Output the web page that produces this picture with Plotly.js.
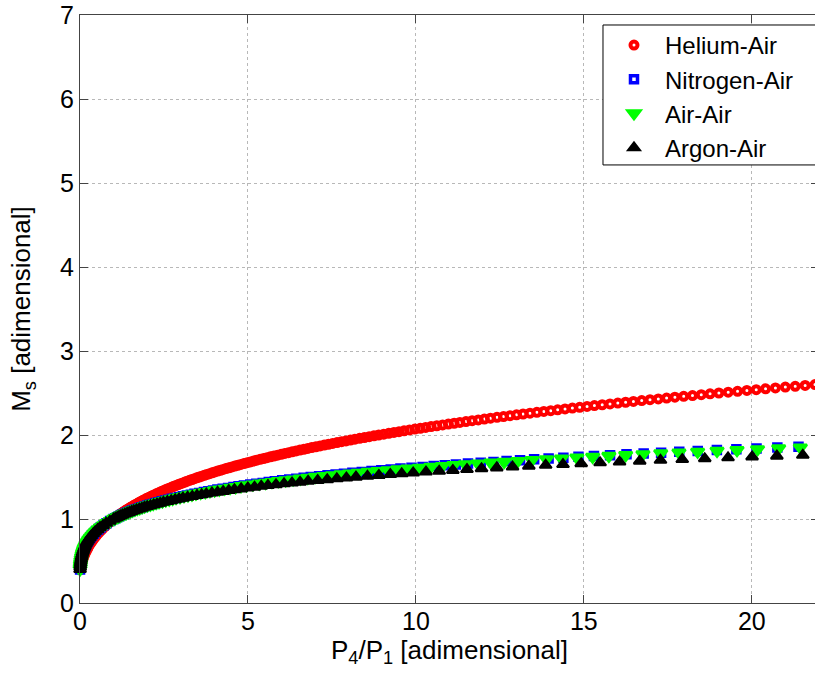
<!DOCTYPE html>
<html>
<head>
<meta charset="utf-8">
<script src="https://cdn.plot.ly/plotly-3.0.1.min.js"></script>
<style>
html, body { margin: 0; padding: 0; overflow: hidden; background: #fff; }
#chart { width: 830px; height: 676px; }
</style>
</head>
<body>
<div id="chart"></div>
<script>
// Shock Mach number Ms versus pressure ratio P4/P1
var lowMs = [0.4,0.425,0.45,0.475,0.5,0.525,0.55,0.575,0.6,0.625,0.65,0.675,0.7,0.725,0.75,0.775,0.8,0.825,0.85,0.875,0.9,0.925,0.95,0.975];

var heliumMs = lowMs.concat([
1.00,1.01,1.02,1.03,1.04,1.05,1.06,1.07,1.08,1.09,
1.10,1.11,1.12,1.13,1.14,1.15,1.16,1.17,1.18,1.19,
1.20,1.21,1.22,1.23,1.24,1.25,1.26,1.27,1.28,1.29,
1.30,1.31,1.32,1.33,1.34,1.35,1.36,1.37,1.38,1.39,
1.40,1.41,1.42,1.43,1.44,1.45,1.46,1.47,1.48,1.49,
1.50,1.51,1.52,1.53,1.54,1.55,1.56,1.57,1.58,1.59,
1.60,1.61,1.62,1.63,1.64,1.65,1.66,1.67,1.68,1.69,
1.70,1.71,1.72,1.73,1.74,1.75,1.76,1.77,1.78,1.79,
1.80,1.81,1.82,1.83,1.84,1.85,1.86,1.87,1.88,1.89,
1.90,1.91,1.92,1.93,1.94,1.95,1.96,1.97,1.98,1.99,
2.00,2.01,2.02,2.03,2.04,2.05,2.06,2.07,2.08,2.09,
2.10,2.11,2.12,2.13,2.14,2.15,2.16,2.17,2.18,2.19,
2.20,2.21,2.22,2.23,2.24,2.25,2.26,2.27,2.28,2.29,
2.30,2.31,2.32,2.33,2.34,2.35,2.36,2.37,2.38,2.39,
2.40,2.41,2.42,2.43,2.44,2.45,2.46,2.47,2.48,2.49,
2.50,2.51,2.52,2.53,2.54,2.55,2.56,2.57,2.58,2.59,
2.60]);
var heliumP = [
0.009,0.022,0.035,0.052,0.069,0.090,0.112,0.138,0.164,0.195,0.227,0.263,0.300,0.342,0.385,0.433,0.481,0.535,0.590,0.651,0.712,0.780,0.849,0.924,
1.000,1.033,1.067,1.100,1.134,1.167,1.204,1.241,1.277,1.314,
1.351,1.391,1.432,1.472,1.513,1.553,1.597,1.641,1.685,1.729,
1.773,1.821,1.869,1.916,1.964,2.012,2.064,2.116,2.169,2.221,
2.273,2.330,2.386,2.443,2.499,2.556,2.617,2.678,2.739,2.800,
2.861,2.927,2.993,3.060,3.126,3.192,3.263,3.334,3.406,3.477,
3.548,3.625,3.702,3.778,3.855,3.932,4.014,4.097,4.179,4.262,
4.344,4.433,4.521,4.610,4.698,4.787,4.882,4.977,5.071,5.166,
5.261,5.363,5.465,5.567,5.669,5.771,5.880,5.989,6.097,6.206,
6.315,6.432,6.548,6.665,6.781,6.898,7.022,7.147,7.271,7.396,
7.520,7.653,7.786,7.918,8.051,8.184,8.326,8.467,8.609,8.750,
8.892,9.043,9.194,9.346,9.497,9.648,9.809,9.970,10.130,10.291,
10.452,10.623,10.795,10.966,11.138,11.309,11.491,11.673,11.856,12.038,
12.220,12.414,12.608,12.802,12.996,13.190,13.396,13.602,13.808,14.014,
14.220,14.439,14.658,14.876,15.095,15.314,15.546,15.778,16.011,16.243,
16.475,16.722,16.969,17.216,17.463,17.710,17.972,18.234,18.495,18.757,
19.019,19.297,19.575,19.853,20.131,20.409,20.703,20.998,21.292,21.587,
21.881];

var nitrogenMs = lowMs.concat([
1.00,1.01,1.02,1.03,1.04,1.05,1.06,1.07,1.08,1.09,
1.10,1.11,1.12,1.13,1.14,1.15,1.16,1.17,1.18,1.19,
1.20,1.21,1.22,1.23,1.24,1.25,1.26,1.27,1.28,1.29,
1.30,1.31,1.32,1.33,1.34,1.35,1.36,1.37,1.38,1.39,
1.40,1.41,1.42,1.43,1.44,1.45,1.46,1.47,1.48,1.49,
1.50,1.51,1.52,1.53,1.54,1.55,1.56,1.57,1.58,1.59,
1.60,1.61,1.62,1.63,1.64,1.65,1.66,1.67,1.68,1.69,
1.70,1.71,1.72,1.73,1.74,1.75,1.76,1.77,1.78,1.79,
1.80,1.81,1.82,1.83,1.84,1.85,1.86,1.87]);
var nitrogenP = [
0.002,0.007,0.012,0.019,0.027,0.038,0.050,0.066,0.082,0.104,0.126,0.155,0.184,0.221,0.259,0.306,0.353,0.411,0.470,0.542,0.613,0.701,0.789,0.895,
1.00,1.05,1.10,1.15,1.20,1.25,1.31,1.37,1.43,1.49,
1.55,1.63,1.70,1.77,1.84,1.91,2.00,2.08,2.17,2.25,
2.34,2.43,2.53,2.63,2.73,2.83,2.95,3.06,3.18,3.30,
3.41,3.55,3.69,3.82,3.96,4.09,4.25,4.41,4.57,4.72,
4.88,5.07,5.25,5.44,5.62,5.80,6.02,6.23,6.44,6.66,
6.87,7.12,7.37,7.61,7.86,8.11,8.39,8.68,8.97,9.25,
9.54,9.87,10.20,10.53,10.86,11.19,11.55,11.93,12.31,12.70,
13.10,13.52,13.95,14.39,14.84,15.30,15.78,16.27,16.78,17.30,
17.84,18.39,18.96,19.54,20.14,20.76,21.39,22.03];

var airMs = lowMs.concat([
1.00,1.01,1.02,1.03,1.04,1.05,1.06,1.07,1.08,1.09,
1.10,1.11,1.12,1.13,1.14,1.15,1.16,1.17,1.18,1.19,
1.20,1.21,1.22,1.23,1.24,1.25,1.26,1.27,1.28,1.29,
1.30,1.31,1.32,1.33,1.34,1.35,1.36,1.37,1.38,1.39,
1.40,1.41,1.42,1.43,1.44,1.45,1.46,1.47,1.48,1.49,
1.50,1.51,1.52,1.53,1.54,1.55,1.56,1.57,1.58,1.59,
1.60,1.61,1.62,1.63,1.64,1.65,1.66,1.67,1.68,1.69,
1.70,1.71,1.72,1.73,1.74,1.75,1.76,1.77,1.78,1.79,
1.80,1.81,1.82,1.83,1.84,1.85,1.86]);
var airP = [
0.002,0.007,0.011,0.019,0.026,0.037,0.049,0.065,0.081,0.102,0.124,0.153,0.182,0.219,0.256,0.303,0.350,0.408,0.467,0.539,0.611,0.699,0.787,0.894,
1.000,1.051,1.102,1.154,1.205,1.256,1.317,1.378,1.439,1.500,
1.561,1.634,1.706,1.779,1.851,1.924,2.010,2.096,2.181,2.267,
2.353,2.454,2.555,2.657,2.758,2.859,2.978,3.096,3.215,3.333,
3.452,3.591,3.730,3.869,4.008,4.147,4.309,4.471,4.633,4.795,
4.957,5.146,5.335,5.525,5.714,5.903,6.123,6.343,6.562,6.782,
7.002,7.257,7.512,7.768,8.023,8.278,8.574,8.870,9.166,9.462,
9.758,10.100,10.443,10.785,11.128,11.470,11.845,12.231,12.627,13.035,
13.454,13.888,14.333,14.791,15.262,15.744,16.245,16.759,17.288,17.831,
18.387,18.965,19.560,20.171,20.800,21.444,22.110];

var argonMs = lowMs.concat([
1.00,1.01,1.02,1.03,1.04,1.05,1.06,1.07,1.08,1.09,
1.10,1.11,1.12,1.13,1.14,1.15,1.16,1.17,1.18,1.19,
1.20,1.21,1.22,1.23,1.24,1.25,1.26,1.27,1.28,1.29,
1.30,1.31,1.32,1.33,1.34,1.35,1.36,1.37,1.38,1.39,
1.40,1.41,1.42,1.43,1.44,1.45,1.46,1.47,1.48,1.49,
1.50,1.51,1.52,1.53,1.54,1.55,1.56,1.57,1.58,1.59,
1.60,1.61,1.62,1.63,1.64,1.65,1.66,1.67,1.68,1.69,
1.70,1.71,1.72,1.73,1.74,1.75,1.76,1.77]);
var argonP = [
0.002,0.006,0.011,0.018,0.024,0.035,0.045,0.060,0.075,0.096,0.117,0.144,0.172,0.208,0.243,0.289,0.335,0.394,0.452,0.525,0.597,0.688,0.778,0.889,
1.000,1.054,1.108,1.163,1.217,1.271,1.337,1.403,1.470,1.536,
1.602,1.682,1.762,1.841,1.921,2.001,2.098,2.194,2.291,2.387,
2.484,2.600,2.716,2.833,2.949,3.065,3.204,3.343,3.483,3.622,
3.761,3.928,4.095,4.263,4.430,4.597,4.797,4.997,5.196,5.396,
5.596,5.835,6.074,6.312,6.551,6.790,7.075,7.360,7.646,7.931,
8.216,8.557,8.897,9.238,9.578,9.919,10.300,10.693,11.100,11.521,
11.954,12.408,12.877,13.362,13.863,14.379,14.921,15.483,16.063,16.663,
17.281,17.929,18.599,19.292,20.008,20.746,21.518,22.316];

var seriesNames = ['Helium-Air', 'Nitrogen-Air', 'Air-Air', 'Argon-Air'];
var xTickVals = [0, 5, 10, 15, 20];
var yTickVals = [0, 1, 2, 3, 4, 5, 6, 7];

var FONT = 'Liberation Sans, Arial, Helvetica, sans-serif';

var traces = [
  {x: heliumP, y: heliumMs, name: seriesNames[0], type: 'scatter', mode: 'markers', cliponaxis: false,
   marker: {symbol: 'circle-open', size: 7, color: '#ff0000', line: {width: 4, color: '#ff0000'}}},
  {x: nitrogenP, y: nitrogenMs, name: seriesNames[1], type: 'scatter', mode: 'markers', cliponaxis: false,
   marker: {symbol: 'square-open', size: 7, color: '#0000ff', line: {width: 3.5, color: '#0000ff'}}},
  {x: airP, y: airMs, name: seriesNames[2], type: 'scatter', mode: 'markers', cliponaxis: false,
   marker: {symbol: 'triangle-down', size: 11.5, color: '#00ff00', line: {width: 2.5, color: '#00ff00'}}},
  {x: argonP, y: argonMs, name: seriesNames[3], type: 'scatter', mode: 'markers', cliponaxis: false,
   marker: {symbol: 'triangle-up', size: 10.5, color: '#000000', line: {width: 2, color: '#000000'}}}
];

var axisCommon = {
  ticks: 'inside', ticklen: 8, tickwidth: 1, tickcolor: '#444',
  showline: true, linecolor: '#444', linewidth: 1, mirror: 'allticks',
  showgrid: true, gridcolor: '#b8b8b8', griddash: 'dot', gridwidth: 1,
  zeroline: false, tickfont: {family: FONT, size: 25, color: '#000'}
};

var layout = {
  width: 830, height: 676,
  margin: {l: 80, r: 11, t: 15, b: 73},
  paper_bgcolor: '#ffffff', plot_bgcolor: '#ffffff',
  font: {family: FONT, size: 25, color: '#000'},
  xaxis: Object.assign({}, axisCommon, {
    range: [0, 22], tickvals: xTickVals, ticktext: xTickVals.map(String), ticklabelstandoff: -4,
    title: {text: 'P<sub>4</sub>/P<sub>1</sub> [adimensional]', standoff: 0, font: {family: FONT, size: 26, color: '#000'}}
  }),
  yaxis: Object.assign({}, axisCommon, {
    range: [0, 7], tickvals: yTickVals, ticktext: yTickVals.map(String),
    title: {text: 'M<sub>s</sub> [adimensional]', standoff: 21, font: {family: FONT, size: 26, color: '#000'}}
  }),
  shapes: [
    {type: 'rect', xref: 'paper', yref: 'paper', layer: 'above',
     x0: 0.7077, x1: 1.012, y0: 0.745, y1: 0.983,
     fillcolor: '#ffffff', line: {color: '#000', width: 1}}
  ],
  showlegend: true,
  legend: {x: 0.7077, y: 0.9864, xanchor: 'left', yanchor: 'top',
    bgcolor: 'rgba(0,0,0,0)', borderwidth: 0,
    font: {family: FONT, size: 24, color: '#000'}, itemwidth: 52}
};

Plotly.newPlot('chart', traces, layout, {displayModeBar: false, staticPlot: true});
</script>
</body>
</html>
